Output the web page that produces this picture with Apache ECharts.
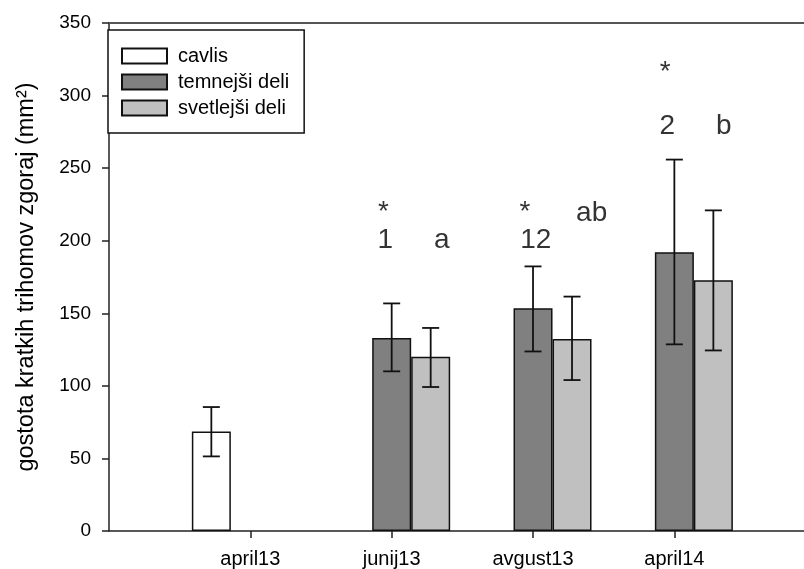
<!DOCTYPE html>
<html>
<head>
<meta charset="utf-8">
<script src="https://cdn.jsdelivr.net/npm/echarts@6/dist/echarts.min.js"></script>
<style>
  html, body { margin: 0; padding: 0; background: #fff; }
  #chart { width: 804px; height: 569px; }
</style>
</head>
<body>
<div id="chart"></div>
<script>
// Sampling dates (empty slots pad the axis on both sides)
const categories = ['', 'april13', 'junij13', 'avgust13', 'april14', ''];

// Mean density of short trichomes (upper side), per leaf part
const cavlis    = [null, 68.5, null, null, null, null];
const temnejsi  = [null, null, 133.0, 153.5, 192.0, null];
const svetlejsi = [null, null, 120.0, 132.3, 172.7, null];

// Error bar limits (lower / upper)
const cavlisLow     = [null, 51.4, null, null, null, null];
const cavlisHigh    = [null, 85.4, null, null, null, null];
const temnejsiLow   = [null, null, 110.0, 123.7, 128.6, null];
const temnejsiHigh  = [null, null, 156.8, 182.3, 255.9, null];
const svetlejsiLow  = [null, null, 99.2, 104.0, 124.4, null];
const svetlejsiHigh = [null, null, 139.9, 161.5, 220.9, null];

// Significance marks: text, position along the date axis, height in data units
const markTexts = ['*', '1', 'a', '*', '12', 'ab', '*', '2', 'b'];
const markX     = [1.941, 1.955, 2.355, 2.943, 3.020, 3.415, 3.936, 3.950, 4.350];
const markY     = [219.4, 200.4, 200.4, 219.4, 200.4, 218.9, 316.1, 278.6, 278.6];

// Y axis ticks
const yMin = 0, yMax = 350, yStep = 50;

const FONT = '"Liberation Sans", Arial, sans-serif';
const BAR_W = 39;
const CAP_HALF = 8.5;

function errorRows(low, high) {
  const rows = [];
  low.forEach((lo, i) => {
    if (lo != null) rows.push([i, lo, high[i]]);
  });
  return rows;
}

function errorBarSeries(name, low, high, offset) {
  return {
    type: 'custom',
    name: name + ' (SD)',
    xAxisIndex: 0,
    yAxisIndex: 0,
    z: 10,
    silent: true,
    encode: { x: 0, y: [1, 2] },
    data: errorRows(low, high),
    renderItem: function (params, api) {
      const idx = api.value(0);
      const lo = api.coord([idx, api.value(1)]);
      const hi = api.coord([idx, api.value(2)]);
      const x = lo[0] + offset;
      const style = { stroke: '#111', lineWidth: 1.8 };
      return {
        type: 'group',
        children: [
          { type: 'line', shape: { x1: x, y1: lo[1], x2: x, y2: hi[1] }, style: style },
          { type: 'line', shape: { x1: x - CAP_HALF, y1: hi[1], x2: x + CAP_HALF, y2: hi[1] }, style: style },
          { type: 'line', shape: { x1: x - CAP_HALF, y1: lo[1], x2: x + CAP_HALF, y2: lo[1] }, style: style }
        ]
      };
    }
  };
}

function barSeries(name, values, color) {
  return {
    type: 'bar',
    name: name,
    xAxisIndex: 0,
    yAxisIndex: 0,
    data: values,
    barWidth: BAR_W,
    barGap: '0%',
    itemStyle: { color: color, borderColor: '#111', borderWidth: 1.5 },
    emphasis: { disabled: true }
  };
}

const chart = echarts.init(document.getElementById('chart'), null, { renderer: 'canvas' });

const option = {
  animation: false,
  backgroundColor: '#fff',
  textStyle: { fontFamily: FONT },
  grid: { left: 109, width: 706.7, top: 23, bottom: 38, containLabel: false, outerBoundsMode: 'none' },
  legend: {
    orient: 'vertical',
    left: 108,
    top: 30,
    data: ['cavlis', 'temnejši deli', 'svetlejši deli'],
    icon: 'rect',
    itemWidth: 45,
    itemHeight: 15,
    itemGap: 6,
    padding: [16, 15, 15, 13],
    borderColor: '#111',
    borderWidth: 1.5,
    backgroundColor: '#fff',
    selectedMode: false,
    textStyle: { fontFamily: FONT, fontSize: 20, color: '#000', lineHeight: 20, padding: [0, 0, 0, 6] }
  },
  xAxis: [
    {
      type: 'category',
      data: categories,
      boundaryGap: false,
      position: 'bottom',
      axisLine: { show: true, lineStyle: { color: '#222', width: 1.5 } },
      axisTick: {
        show: true,
        length: 7,
        interval: function (i, v) { return v !== ''; },
        lineStyle: { color: '#222', width: 1.5 }
      },
      axisLabel: {
        fontFamily: FONT, fontSize: 20, color: '#000', margin: 18,
        interval: 0
      },
      splitLine: { show: false }
    },
    {
      type: 'value',
      min: 0,
      max: categories.length - 1,
      position: 'top',
      axisLine: { show: true, onZero: false, lineStyle: { color: '#555', width: 2 } },
      axisTick: { show: false },
      axisLabel: { show: false },
      splitLine: { show: false }
    }
  ],
  yAxis: {
    type: 'value',
    min: yMin,
    max: yMax,
    interval: yStep,
    name: 'gostota kratkih trihomov zgoraj (mm²)',
    nameLocation: 'middle',
    nameGap: 70,
    nameTextStyle: { fontFamily: FONT, fontSize: 23.5, color: '#000' },
    axisLine: { show: true, lineStyle: { color: '#222', width: 1.5 } },
    axisTick: { show: true, length: 7, lineStyle: { color: '#222', width: 1.5 } },
    axisLabel: { fontFamily: FONT, fontSize: 19, color: '#000', margin: 18 },
    splitLine: { show: false }
  },
  series: [
    barSeries('cavlis', cavlis, '#ffffff'),
    barSeries('temnejši deli', temnejsi, '#808080'),
    barSeries('svetlejši deli', svetlejsi, '#c0c0c0'),
    errorBarSeries('cavlis', cavlisLow, cavlisHigh, -BAR_W),
    errorBarSeries('temnejši deli', temnejsiLow, temnejsiHigh, 0),
    errorBarSeries('svetlejši deli', svetlejsiLow, svetlejsiHigh, BAR_W),
    {
      type: 'scatter',
      name: 'oznake',
      xAxisIndex: 1,
      yAxisIndex: 0,
      symbolSize: 0,
      silent: true,
      z: 12,
      data: markTexts.map((t, i) => ({
        value: [markX[i], markY[i]],
        label: { formatter: t }
      })),
      label: {
        show: true,
        position: 'inside',
        fontFamily: FONT,
        fontSize: 28,
        color: '#000'
      }
    }
  ]
};

chart.setOption(option);
</script>
</body>
</html>
